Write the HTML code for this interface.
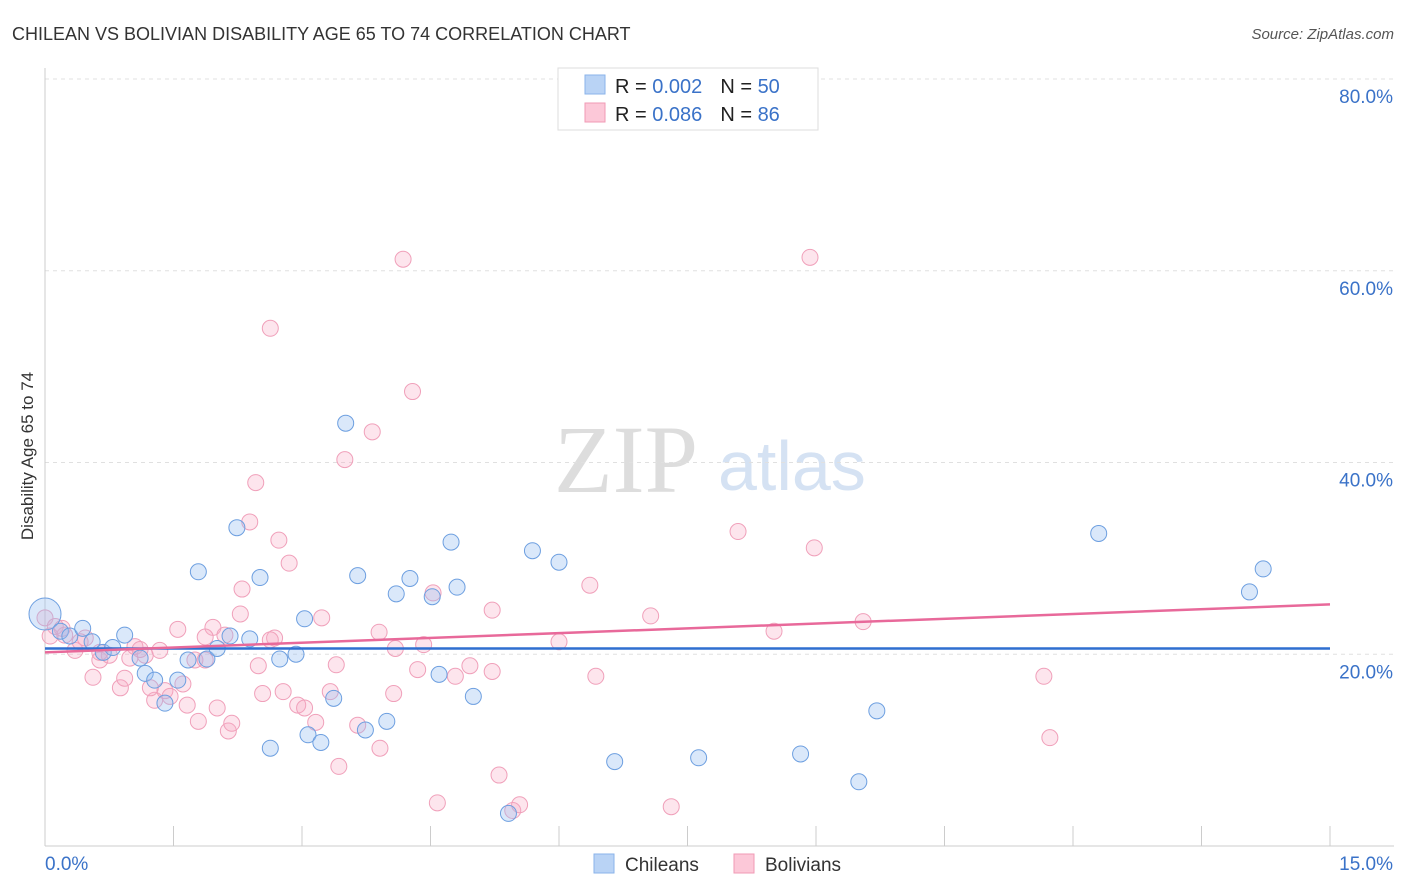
<!DOCTYPE html>
<html><head><meta charset="utf-8"><style>
body{margin:0;background:#fff;font-family:"Liberation Sans",sans-serif;}
svg{display:block}
</style></head><body>
<svg id="c" width="1406" height="892" xmlns="http://www.w3.org/2000/svg">
<text x="12" y="40" font-size="18" fill="#333">CHILEAN VS BOLIVIAN DISABILITY AGE 65 TO 74 CORRELATION CHART</text>
<text x="1394" y="39" font-size="15" fill="#555" font-style="italic" text-anchor="end">Source: ZipAtlas.com</text>
<text x="554" y="492" font-size="96" fill="#ddd" font-family="Liberation Serif">ZIP</text>
<text x="718" y="490" font-size="70" fill="#d5e2f3">atlas</text>
<text transform="translate(33,456) rotate(-90)" font-size="17" fill="#333" text-anchor="middle">Disability Age 65 to 74</text>
<g id="grid"></g><g id="pts"></g><g id="lines"></g>
<g>
<rect x="558" y="68" width="260" height="62" fill="#fff" stroke="#ddd"/>
<rect x="585" y="75" width="20" height="19" fill="#b9d3f5" stroke="#8ab3ea"/>
<rect x="585" y="103" width="20" height="19" fill="#fcc8d8" stroke="#f09ab5"/>
<text x="615" y="93" font-size="20" fill="#222">R = <tspan fill="#3a72c8">0.002</tspan><tspan dx="18">N = </tspan><tspan fill="#3a72c8">50</tspan></text>
<text x="615" y="121" font-size="20" fill="#222">R = <tspan fill="#3a72c8">0.086</tspan><tspan dx="18">N = </tspan><tspan fill="#3a72c8"> 86</tspan></text>
</g>
<g>
<rect x="594" y="854" width="20" height="19" fill="#b9d3f5" stroke="#8ab3ea"/>
<text x="625" y="871" font-size="19" fill="#333">Chileans</text>
<rect x="734" y="854" width="20" height="19" fill="#fcc8d8" stroke="#f09ab5"/>
<text x="765" y="871" font-size="19" fill="#333">Bolivians</text>
</g>
</svg>
<script>
const yTicks=[20,40,60,80];
const xTickLabels=["0.0%","15.0%"];
const chileX=[0,0.18,0.29,0.44,0.55,0.68,0.79,0.93,1.11,1.17,1.28,1.4,1.55,1.67,1.79,1.89,2.01,2.16,2.24,2.39,2.51,2.63,2.74,2.93,3.03,3.07,3.22,3.37,3.51,3.65,3.74,3.99,4.1,4.26,4.52,4.6,4.74,4.81,5.0,5.41,5.69,6.0,6.65,7.63,8.82,9.5,9.71,12.3,14.06,14.22];
const chileY=[24.2,22.4,21.9,22.7,21.3,20.2,20.7,22.0,19.6,18.0,17.3,14.9,17.3,19.4,28.6,19.5,20.6,21.9,33.2,21.6,28.0,10.2,19.5,20.0,23.7,11.6,10.8,15.4,44.1,28.2,12.1,13.0,26.3,27.9,26.0,17.9,31.7,27.0,15.6,3.4,30.8,29.6,8.8,9.2,9.6,6.7,14.1,32.6,26.5,28.9];
const bolX=[0,0.12,0.23,0.35,0.47,0.56,0.64,0.75,0.88,0.93,0.99,1.05,1.17,1.28,1.34,1.4,1.46,1.55,1.61,1.66,1.75,1.79,1.87,1.96,2.01,2.1,2.14,2.18,2.28,2.3,2.39,2.46,2.49,2.54,2.63,2.68,2.73,2.78,2.85,2.95,3.03,3.16,3.23,3.33,3.4,3.43,3.5,3.65,3.82,3.9,3.91,4.07,4.18,4.29,4.35,4.42,4.53,4.58,4.79,4.96,5.22,5.22,5.3,5.46,5.54,6.0,6.36,6.43,7.07,7.31,8.09,8.51,8.93,8.98,9.55,11.66,11.73,0.64,1.11,1.87,0.06,0.2,0.41,1.23,2.63,4.09];
const bolY=[23.8,22.9,22.0,20.4,21.7,17.6,19.4,19.9,16.5,17.5,19.6,20.8,19.9,15.2,20.4,16.2,15.6,22.6,16.9,14.7,19.4,13.0,19.4,22.8,14.4,22.0,12.0,12.8,24.2,26.8,33.8,37.9,18.8,15.9,54.0,21.7,31.9,16.1,29.5,14.7,14.4,12.9,23.8,16.1,18.9,8.3,40.3,12.6,43.2,22.3,10.2,15.9,61.2,47.4,18.4,21.0,26.4,4.5,17.7,18.8,18.2,24.6,7.4,3.7,4.3,21.3,27.2,17.7,24.0,4.1,32.8,22.4,61.4,31.1,23.4,17.7,11.3,20.2,20.5,21.8,21.9,22.7,21.3,16.5,21.5,20.6];
const blueLine=[20.6,20.6];
const pinkLine=[20.2,25.2];
const NS="http://www.w3.org/2000/svg";
const X=v=>45+v/15*1285, Y=v=>846-v*9.5875;
function mk(p,t,a){const e=document.createElementNS(NS,t);for(const k in a)e.setAttribute(k,a[k]);p.appendChild(e);return e;}
const g=document.getElementById('grid');
yTicks.forEach(t=>{const l=mk(g,'line',{x1:45,x2:1394,y1:Y(t),y2:Y(t),stroke:'#e0e0e0','stroke-dasharray':'4,4'});


const tx=mk(g,'text',{x:1393,y:Y(t)+24,'font-size':19,fill:'#3a72c8','text-anchor':'end'});tx.textContent=t.toFixed(1)+'%';

});
mk(g,'line',{x1:45,x2:45,y1:68,y2:846,stroke:'#ccc'});
mk(g,'line',{x1:45,x2:1394,y1:846,y2:846,stroke:'#ccc'});
for(let i=0;i<=10;i++){const t=mk(g,'line',{x1:X(i*1.5),x2:X(i*1.5),y1:826,y2:846,stroke:'#ccc'});

}
const l0=mk(g,'text',{x:45,y:870,'font-size':19,fill:'#3a72c8'});l0.textContent=xTickLabels[0];


const l1=mk(g,'text',{x:1393,y:870,'font-size':19,fill:'#3a72c8','text-anchor':'end'});l1.textContent=xTickLabels[1];


const P=document.getElementById('pts');
bolX.forEach((x,i)=>{const c=mk(P,'circle',{cx:X(x),cy:Y(bolY[i]),r:8,fill:'rgba(248,170,195,0.3)',stroke:'#f0a0ba','stroke-width':1});

});
chileX.forEach((x,i)=>{const c=mk(P,'circle',{cx:X(x),cy:Y(chileY[i]),r:i==0?16:8,fill:'rgba(150,190,240,0.35)',stroke:'#6d9fe0','stroke-width':1});

});
const L=document.getElementById('lines');
const b=mk(L,'line',{x1:X(0),x2:X(15),y1:Y(blueLine[0]),y2:Y(blueLine[1]),stroke:'#2f6fd0','stroke-width':2.5});


const p=mk(L,'line',{x1:X(0),x2:X(15),y1:Y(pinkLine[0]),y2:Y(pinkLine[1]),stroke:'#e8699a','stroke-width':2.5});


</script>
</body></html>
